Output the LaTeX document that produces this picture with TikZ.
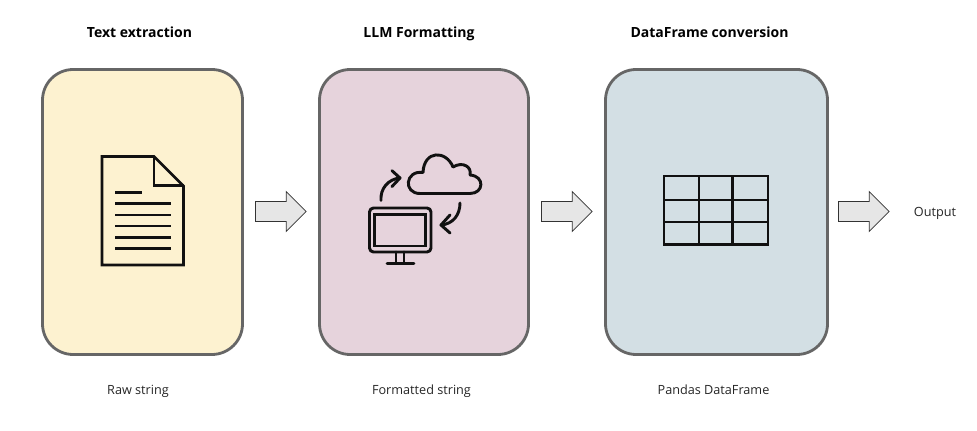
\documentclass[tikz,border=0pt]{standalone}
\usepackage{fontspec}
\setmainfont{Open Sans}
\usetikzlibrary{shapes.arrows}
\definecolor{bxy}{HTML}{FDF2D0}
\definecolor{bxp}{HTML}{E6D3DC}
\definecolor{bxb}{HTML}{D3DFE4}
\definecolor{bord}{HTML}{666666}
\definecolor{arrowf}{HTML}{E6E6E6}
\definecolor{ink}{HTML}{111111}
\tikzset{
  panel/.style={draw=bord,line width=2.1pt,rounded corners=23pt,anchor=north west,inner sep=0pt,outer sep=0pt},
  title/.style={font=\fontsize{10.5}{12}\selectfont\bfseries,text=black,inner sep=0pt,anchor=base},
  caption/.style={font=\fontsize{9.5}{11}\selectfont,text=black!85,inner sep=0pt,anchor=base},
  blockarrow/.style={single arrow,draw=black!80,fill=arrowf,line width=0.6pt,anchor=tail,outer sep=0pt,
    minimum height=38pt,minimum width=29.5pt,inner xsep=0pt,inner ysep=7.2pt,
    single arrow head extend=7.5pt,single arrow tip angle=90,single arrow head indent=0pt},
  icon/.style={draw=ink,line width=2.1pt,line join=miter},
  iconr/.style={draw=ink,line width=2.2pt,line join=round,line cap=round},
}
\begin{document}
\begin{tikzpicture}[x=0.75pt,y=-0.75pt]
\useasboundingbox[fill=white] (0,0) rectangle (977,431);
% panels
\node[panel,fill=bxy,minimum width=150pt,minimum height=213.75pt] (p1) at (42.5,69.5) {};
\node[panel,fill=bxp,minimum width=156.75pt,minimum height=213.75pt] (p2) at (319.5,69.5) {};
\node[panel,fill=bxb,minimum width=166.5pt,minimum height=213.75pt] (p3) at (605.5,69.5) {};
% titles
\node[title] (t1) at (139.5,37.5) {Text extraction};
\node[title] (t2) at (419,37.5) {LLM Formatting};
\node[title] (t3) at (709.5,37.5) {DataFrame conversion};
% captions
\node[caption] (c1) at (138,394) {Raw string};
\node[caption] (c2) at (421.5,394) {Formatted string};
\node[caption] (c3) at (713.5,394) {Pandas DataFrame};
\node[caption] (out) at (935,216.5) {Output};
% block arrows
\node[blockarrow] (a1) at (255.5,211.5) {};
\node[blockarrow] (a2) at (541.5,211.5) {};
\node[blockarrow] (a3) at (838.5,211.5) {};
% document icon
\draw[icon] (102,156.5) -- (154,156.5) -- (183.5,186) -- (183.5,265) -- (102,265) -- cycle;
\draw[icon] (154,156.5) -- (154,185.5) -- (183.5,185.5);
\foreach \yy in {203.5,215,226,237.5,248.5} \draw[icon,line width=1.9pt] (115,\yy) -- (171,\yy);
\draw[icon,line width=1.9pt] (115,192.7) -- (141.5,192.7);
% computer icon
\draw[iconr,rounded corners=3pt] (369.5,208) rectangle (431,252);
\draw[icon] (374.5,214.5) rectangle (425.5,246);
\draw[iconr] (396,252) -- (396,263) (404,252) -- (404,263) (387,263.5) -- (414,263.5);
% cloud
\draw[iconr] (420,193.5) .. controls (403,193.5) and (405,170) .. (423,172.5)
  .. controls (424,150) and (446,150) .. (453,167)
  .. controls (463,161) and (472,167) .. (470,175)
  .. controls (485,176) and (484,193.5) .. (470,193.5) -- cycle;
% exchange arrows
\draw[iconr] (381,200.5) .. controls (380,189) and (388,179) .. (400,178);
\draw[iconr] (392,170.7) -- (400,178) -- (392,186.5);
\draw[iconr] (460,203) .. controls (460,215) and (453,224) .. (441,225);
\draw[iconr] (450,215) -- (441,225) -- (450,233);
% table icon
\draw[icon] (664,176) rectangle (768,244.5);
\draw[icon] (699,176) -- (699,244.5) (732.5,176) -- (732.5,244.5);
\draw[icon] (664,200) -- (768,200) (664,222) -- (768,222);
\end{tikzpicture}
\end{document}
